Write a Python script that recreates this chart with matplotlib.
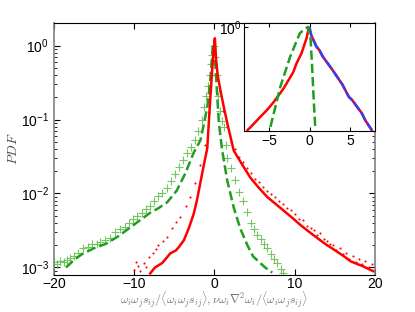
import numpy as np
import matplotlib
matplotlib.use('Agg')
import matplotlib.pyplot as plt
from matplotlib.ticker import FixedLocator, FuncFormatter, NullLocator, LogLocator

plt.rcParams['font.family'] = ['Liberation Sans', 'DejaVu Sans']
plt.rcParams['mathtext.fontset'] = 'cm'

# ---- main plot data (x, log10 pdf) ----
# red solid: w_i w_j s_ij
red_x = [-8.0, -7.4, -6.5, -5.5, -4.8, -4.4, -3.8, -3.2, -2.6, -2.2, -1.75, -1.3, -0.9,
         -0.6, -0.3, -0.1, 0.05, 0.2, 0.4, 0.75, 1.2, 1.6, 2.4, 3.4, 4.5, 5.5, 6.6,
         7.6, 8.6, 9.7, 10.75, 11.8, 12.9, 13.9, 14.9, 16.0, 17.0, 18.4, 19.75]
red_log = [-3.08, -3.0, -2.94, -2.81, -2.77, -2.72, -2.63, -2.47, -2.28, -2.10, -1.85, -1.60, -1.39,
           -0.85, -0.35, -0.05, 0.10, -0.18, -0.40, -0.61, -0.85, -1.05, -1.42, -1.60, -1.79, -1.92, -2.05,
           -2.14, -2.23, -2.33, -2.43, -2.52, -2.61, -2.69, -2.76, -2.84, -2.92, -2.98, -3.05]

# red dots
dot_x = [-10.0, -9.8, -9.5, -9.3, -8.8, -8.5, -8.2, -7.6, -7.3, -7.0, -6.4, -5.9, -5.3, -4.8,
         -4.25, -3.6, -3.0, -2.4, -1.75, -1.2, -0.7, -0.3, 0.0,
         0.3, 0.7, 1.1, 1.5, 2.0, 2.5, 3.0, 3.5, 4.0, 4.5, 5.0, 5.5, 6.0, 6.5, 7.0, 7.5,
         8.0, 8.5, 9.0, 9.5, 10.0, 10.5, 11.0, 11.5, 12.0, 12.4, 12.8, 13.2, 13.6, 14.0,
         14.4, 14.8, 15.2, 15.6, 16.0, 16.4, 16.8, 17.2, 17.6, 18.0, 18.4, 18.8, 19.2, 19.6, 19.9]
dot_log = [-3.03, -2.93, -2.98, -3.05, -2.94, -3.00, -2.86, -2.81, -2.75, -2.70, -2.64, -2.59, -2.47, -2.38,
           -2.32, -2.17, -2.05, -1.86, -1.61, -1.35, -0.90, -0.40, 0.05,
           -0.45, -0.62, -0.88, -1.10, -1.30, -1.40, -1.50, -1.58, -1.66, -1.72, -1.80, -1.84, -1.91, -1.96, -2.01, -2.05,
           -2.10, -2.14, -2.20, -2.23, -2.28, -2.34, -2.36, -2.44, -2.47, -2.50, -2.56, -2.53, -2.62, -2.64,
           -2.68, -2.70, -2.77, -2.74, -2.82, -2.80, -2.88, -2.84, -2.93, -2.89, -2.95, -2.91, -3.00, -2.96, -3.04]

# green plus markers
plus_x = [-20.0, -19.6, -19.2, -18.8, -18.4, -18.0, -17.5, -17.0, -16.4, -15.8, -15.2, -14.6, -14.25,
          -13.6, -13.0, -12.4, -11.8, -11.2, -10.6, -10.1, -9.6, -9.0, -8.5, -8.0, -7.5, -7.0, -6.5,
          -5.9, -5.4, -4.9, -4.4, -3.9, -3.4, -2.9, -2.4, -2.0, -1.6, -1.3, -1.0, -0.8, -0.6, -0.45,
          -0.3, -0.1, 0.1, 0.3, 0.5, 0.75, 1.0, 1.2, 1.4, 1.6, 2.0, 2.5, 3.0, 3.5, 4.0, 4.5, 4.9,
          5.3, 5.8, 6.2, 6.6, 7.0, 7.4, 7.8, 8.25, 8.6]
plus_log = [-2.93, -2.96, -2.92, -2.93, -2.90, -2.87, -2.84, -2.80, -2.74, -2.72, -2.69, -2.69, -2.66,
            -2.63, -2.60, -2.52, -2.48, -2.46, -2.40, -2.35, -2.30, -2.27, -2.21, -2.17, -2.10, -2.04, -1.99,
            -1.92, -1.83, -1.73, -1.64, -1.55, -1.45, -1.37, -1.28, -1.15, -1.00, -0.83, -0.68, -0.55, -0.40, -0.25,
            -0.12, 0.0, -0.15, -0.40, -0.68, -0.88, -1.02, -1.10, -1.35, -1.52, -1.65, -1.82, -1.98, -2.10, -2.25, -2.40, -2.48,
            -2.56, -2.62, -2.68, -2.74, -2.82, -2.88, -2.94, -3.02, -3.07]

# green dashed
dash_x = [-18.5, -17.5, -16.5, -15.0, -13.5, -12.0, -10.5, -9.0, -8.0, -7.0, -5.9, -4.7, -3.6,
          -2.6, -1.75, -1.3, -0.9, -0.6, -0.4, -0.2, 0.0, 0.3, 0.55, 0.95, 1.6, 2.4, 3.2, 4.1,
          4.8, 5.5, 6.3, 7.2]
dash_log = [-3.0, -2.9, -2.82, -2.74, -2.68, -2.58, -2.46, -2.34, -2.26, -2.20, -2.12, -1.96, -1.72,
            -1.45, -1.28, -1.05, -0.83, -0.55, -0.30, 0.02, -0.05, -0.60, -1.05, -1.41, -1.83, -2.19, -2.47, -2.70,
            -2.85, -2.92, -3.0, -3.07]

# ---- inset data ----
in_red_x = [-7.6, -7.2, -6.0, -5.2, -4.4, -3.2, -2.0, -1.6, -1.0, -0.6, -0.4, -0.1,
            0.2, 0.8, 1.2, 1.6, 2.8, 4.0, 4.8, 5.2, 6.4, 6.8, 7.6]
in_red_log = [-1.98, -1.92, -1.72, -1.59, -1.44, -1.18, -0.86, -0.69, -0.50, -0.31, -0.22, 0.0,
              -0.15, -0.36, -0.44, -0.56, -0.82, -1.10, -1.34, -1.40, -1.66, -1.79, -1.98]
in_blue_x = [0.0, 0.2, 0.8, 1.2, 1.6, 2.8, 4.0, 4.8, 5.2, 6.4, 6.8, 7.6]
in_blue_log = [0.0, -0.15, -0.36, -0.44, -0.56, -0.82, -1.10, -1.34, -1.40, -1.66, -1.79, -1.98]
in_grn_x = [-4.8, -3.6, -2.4, -1.2, -0.6, -0.2, 0.12, 0.3, 0.5, 0.7]
in_grn_log = [-1.92, -1.15, -0.57, -0.11, -0.03, 0.01, -0.24, -0.76, -1.40, -1.98]

RED = '#ff0000'
GREEN = '#1f9e1f'
LGREEN = '#52b83a'
GRAY = '#808080'


def sci(v, pos):
    return r'$\mathregular{10^{%d}}$' % int(round(np.log10(v)))


fig = plt.figure(figsize=(4.15, 3.12), dpi=100)
ax = fig.add_axes([0.130, 0.120, 0.7736, 0.805])

ax.plot(plus_x, 10 ** np.array(plus_log), '+', color=LGREEN, ms=6, mew=0.8, alpha=0.8)
ax.plot(dash_x, 10 ** np.array(dash_log), '--', color=GREEN, lw=1.8)
ax.plot(dot_x, 10 ** np.array(dot_log), 'o', color=RED, ms=1.5, mew=0)
ax.plot(red_x, 10 ** np.array(red_log), '-', color=RED, lw=1.8)

ax.set_yscale('log')
ax.set_xlim(-20, 20)
ax.set_ylim(8e-4, 2)
ax.set_xticks([-20, -10, 0, 10, 20])
ax.set_xticklabels(['\u221220', '\u221210', '0', '10', '20'])
ax.yaxis.set_major_locator(FixedLocator([1e-3, 1e-2, 1e-1, 1]))
ax.yaxis.set_major_formatter(FuncFormatter(sci))
ax.yaxis.set_minor_locator(LogLocator(base=10, subs=np.arange(2, 10)))
ax.yaxis.set_minor_formatter(FuncFormatter(lambda v, p: ''))
ax.tick_params(which='both', direction='in', top=True, right=True, labelsize=10)
ax.tick_params(which='major', length=4)
ax.tick_params(which='minor', length=2)
ax.tick_params(axis='x', pad=2)
ax.spines['left'].set_color(GRAY)
ax.spines['right'].set_color(GRAY)
ax.spines['left'].set_linewidth(1.2)
ax.spines['right'].set_linewidth(1.2)

ax.set_xlabel(r'$\omega_i\omega_j s_{ij}/\langle\omega_i\omega_j s_{ij}\rangle,'
              r'\nu\omega_i\nabla^2\omega_i/\langle\omega_i\omega_j s_{ij}\rangle$',
              fontsize=8.5, color='#707070')
ax.xaxis.set_label_coords(0.5, -0.062)
ax.set_ylabel(r'$PDF$', fontsize=10, color='#505050')
ax.yaxis.set_label_coords(-0.105, 0.5)

# inset
ins = fig.add_axes([0.5887, 0.580, 0.3149, 0.345])
ins.plot(in_red_x, 10 ** np.array(in_red_log), '-', color=RED, lw=1.8)
ins.plot(in_blue_x, 10 ** np.array(in_blue_log), '-', color='#3040ff', lw=1.8,
         dashes=(4, 1))
ins.plot(in_grn_x, 10 ** np.array(in_grn_log), '--', color=GREEN, lw=1.8)
ins.set_yscale('log')
ins.set_xlim(-8, 8)
ins.set_ylim(1e-2, 1.2)
ins.set_xticks([-5, 0, 5])
ins.set_xticklabels(['\u22125', '0', '5'])
ins.yaxis.set_major_locator(FixedLocator([1]))
ins.yaxis.set_major_formatter(FuncFormatter(sci))
ins.yaxis.set_minor_locator(NullLocator())
ins.tick_params(which='both', direction='in', top=True, labelsize=10, length=3, pad=2)

fig.savefig('out.png', dpi=100)
